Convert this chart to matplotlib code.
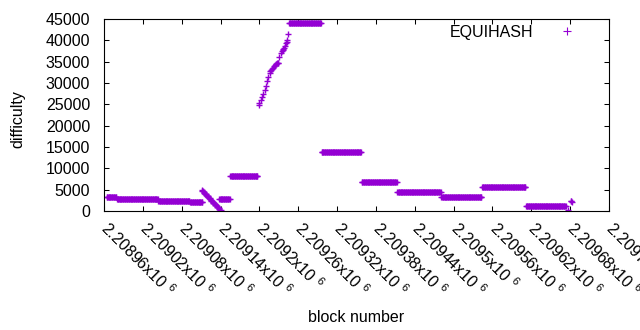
#!/usr/bin/env python3
"""Difficulty per block number for EQUIHASH, gnuplot-like look."""

import matplotlib
matplotlib.use('Agg')
import matplotlib.pyplot as plt
from matplotlib.lines import Line2D

plt.rcParams['font.family'] = ['Liberation Sans', 'DejaVu Sans']
plt.rcParams['mathtext.fontset'] = 'custom'
plt.rcParams['mathtext.rm'] = 'Liberation Sans'
plt.rcParams['mathtext.it'] = 'Liberation Sans'
plt.rcParams['mathtext.default'] = 'regular'

PURPLE = '#9400d3'

# flat difficulty windows: first block, last block, level
seg_start = [2208964, 2208980, 2209044, 2209093, 2209138, 2209155,
             2209246, 2209296, 2209358, 2209413, 2209481, 2209544, 2209612]
seg_end = [2208979, 2209043, 2209092, 2209112, 2209154, 2209197,
           2209295, 2209357, 2209412, 2209480, 2209543, 2209611, 2209673]
seg_level = [3250, 2750, 2250, 2000, 2750, 8150,
             44000, 13800, 6900, 4550, 3350, 5550, 1100]

# falling run after block ~2209110
drop_blocks = list(range(2209111, 2209141))
drop_vals = [4900, 4750, 4580, 4420, 4260, 4100, 3930, 3770, 3600, 3440,
             3280, 3110, 2950, 2790, 2620, 2460, 2300, 2130, 1970, 1810,
             1640, 1480, 1320, 1150, 990, 830, 670, 500, 340, 200]

# steep climb up to the 44000 plateau
ramp_blocks = [2209199, 2209200, 2209202, 2209204, 2209206, 2209208, 2209210,
               2209212, 2209214, 2209216, 2209217, 2209218, 2209219, 2209221,
               2209223, 2209224, 2209225, 2209226, 2209227, 2209228, 2209229,
               2209231, 2209233, 2209235, 2209236, 2209237, 2209238, 2209239,
               2209241, 2209242, 2209243, 2209244]
ramp_vals = [24900, 25400, 25900, 26700, 27400, 28300, 29300,
             30400, 31500, 32300, 32700, 33000, 33300, 33600,
             34000, 34200, 34400, 34500, 34600, 34700, 34800,
             36000, 37000, 37600, 37800, 38000, 38200, 38700,
             39400, 39700, 40000, 41600]

# last few blocks
tail_blocks = [2209677, 2209681, 2209682, 2209683]
tail_vals = [200, 2450, 2300, 2150]

x_ticks = list(range(2208960, 2209741, 60))
y_ticks = list(range(0, 45001, 5000))


def tick_label(v):
    s = f'{v / 1e6:.6f}'.rstrip('0').rstrip('.')
    return f'{s}x10 $^{{6}}$'


blocks, vals = [], []
for a, b, lv in zip(seg_start, seg_end, seg_level):
    for blk in range(a, b + 1):
        blocks.append(blk)
        vals.append(lv)
blocks += drop_blocks + ramp_blocks + tail_blocks
vals += drop_vals + ramp_vals + tail_vals

W, H = 640, 330
fig = plt.figure(figsize=(W / 100, H / 100), dpi=100)
ax = fig.add_axes([104 / W, 1 - 211 / H, 505 / W, 192 / H])

ax.plot(blocks, vals, linestyle='none', marker='+', markersize=4.7,
        markeredgewidth=1.0, color=PURPLE)

ax.set_xlim(x_ticks[0], x_ticks[-1])
ax.set_ylim(0, 45000)
ax.set_yticks(y_ticks)
ax.set_yticklabels([str(v) for v in y_ticks])
ax.set_xticks(x_ticks)
ax.set_xticklabels([tick_label(v) for v in x_ticks], rotation=-45,
                   ha='left', va='center', rotation_mode='anchor')
ax.tick_params(direction='in', length=3.3, width=0.75, top=True, right=True,
               labelsize=11.5, colors='black')
ax.tick_params(axis='y', pad=10)
ax.tick_params(axis='x', pad=10)
for sp in ax.spines.values():
    sp.set_linewidth(0.8)

fig.text(17.5 / W, 1 - 119 / H, 'difficulty', rotation=90, ha='center',
         va='center', fontsize=11.5)
fig.text(356 / W, 1 - 317 / H, 'block number', ha='center', va='center',
         fontsize=11.5)

handle = Line2D([], [], linestyle='none', marker='+', markersize=6,
                markeredgewidth=0.8, color=PURPLE)
ax.legend([handle], ['EQUIHASH'], loc='upper right', markerfirst=False,
          frameon=False, fontsize=11.5, handlelength=2.0, handletextpad=1.1,
          borderpad=0, borderaxespad=0,
          bbox_to_anchor=((583 - 104) / 505, (211 - 25) / 192))

fig.savefig('out.png', dpi=100)
